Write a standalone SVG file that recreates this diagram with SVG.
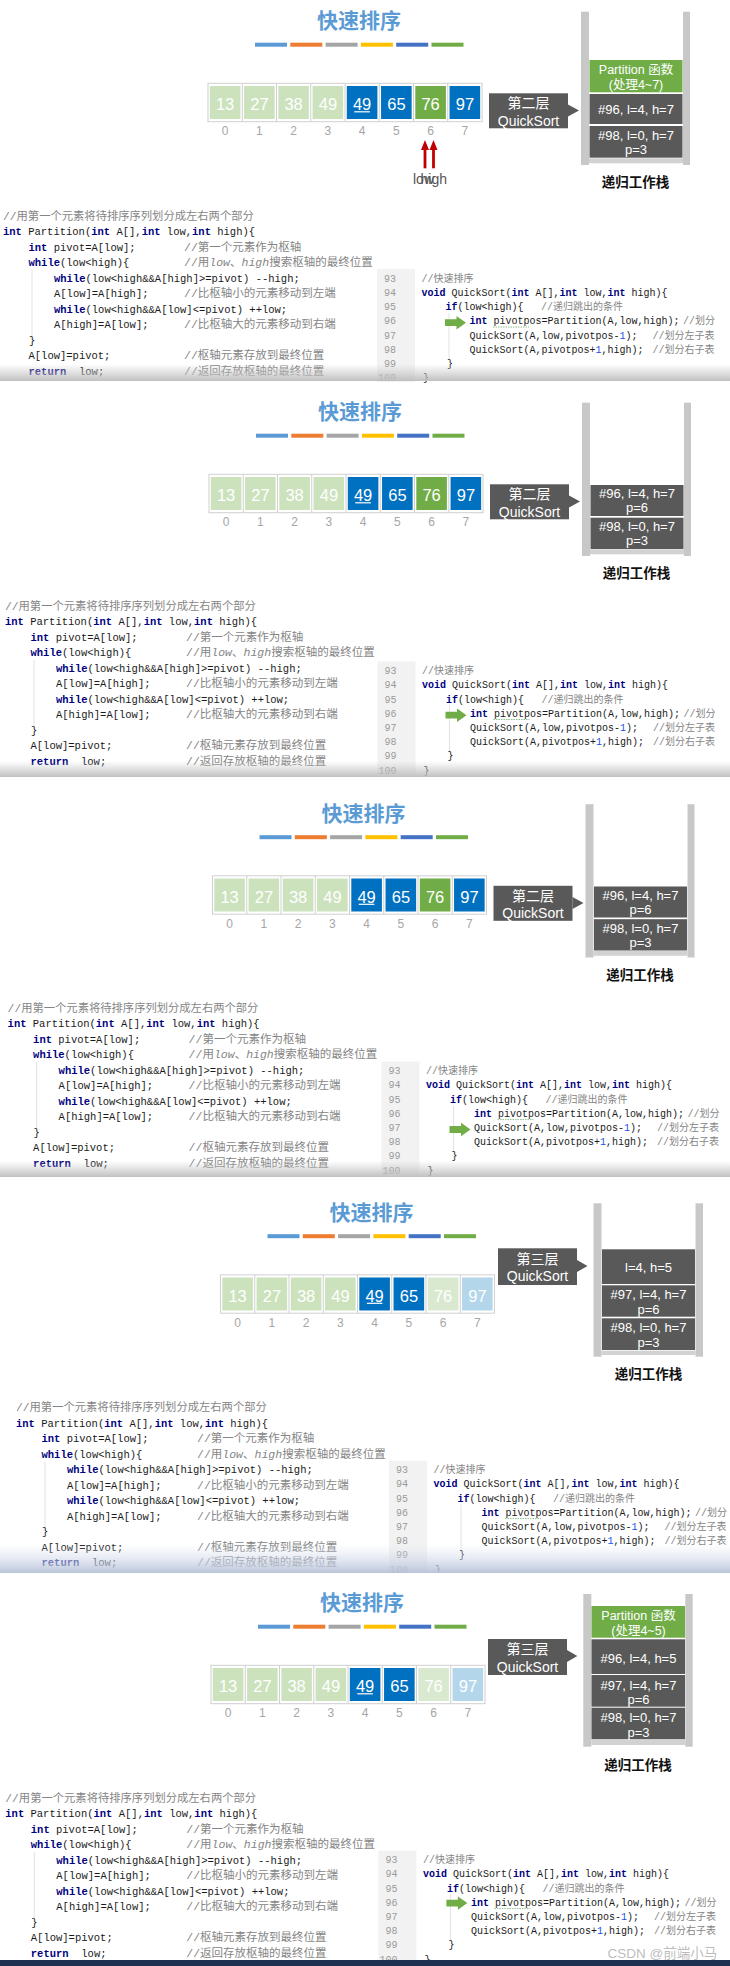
<svg xmlns="http://www.w3.org/2000/svg" xmlns:xlink="http://www.w3.org/1999/xlink" width="730" height="1966" viewBox="0 0 730 1966">
<style>
.t{font-family:"Noto Sans CJK SC",sans-serif;font-weight:700;font-size:21px;fill:#5b9bd5;text-anchor:middle}
.n{font-family:"Liberation Sans",Arial,sans-serif;font-size:16.5px;fill:#fff;text-anchor:middle}
.ix{font-family:"Liberation Sans",Arial,sans-serif;font-size:12px;fill:#a6a6a6;text-anchor:middle}
.cw{font-family:"Liberation Sans","Noto Sans CJK SC",sans-serif;font-size:14px;fill:#fff;text-anchor:middle}
.sw{font-family:"Liberation Sans","Noto Sans CJK SC",sans-serif;font-size:13px;fill:#fff;text-anchor:middle}
.sp{font-size:12.5px}
.sk{font-family:"Noto Sans CJK SC",sans-serif;font-weight:700;font-size:13.5px;fill:#111;text-anchor:middle}
.lh{font-family:"Liberation Sans",Arial,sans-serif;font-size:14px;fill:#555}
.lc{font-family:"Liberation Mono","DejaVu Sans Mono","Noto Sans CJK SC",monospace;font-size:10.5px;fill:#1a1a1a}
.rc{font-family:"Liberation Mono","DejaVu Sans Mono","Noto Sans CJK SC",monospace;font-size:10px;fill:#1a1a1a}
.k{fill:#000080;font-weight:700}
.c{fill:#858585}
.lc .c{font-size:11.5px}
.i{font-style:italic}
.num{fill:#1750eb}
.ln{fill:#9a9a9a;text-anchor:end}
.gut{fill:#f2f2f2}
.gd{stroke:#e2e2e2;stroke-width:1}
.sq{stroke:#8cc08c;stroke-width:1;stroke-dasharray:1.5 1;fill:none}
.fr{fill:#fff;stroke:#d0d0d0;stroke-width:1}
.dv{stroke:#d0d0d0;stroke-width:1;fill:none}
.lg{fill:#cce2bd}.bl{fill:#0070c0}.gr{fill:#70ad47}.lg2{fill:#d9e9cf}.lb{fill:#b4d6eb}.dk{fill:#595959}
.sb{fill:#c8c8c8}.sbb{fill:#d2d2d2}
</style>
<defs>
<path id="ga" d="M-21,-3.4H-9.5V-6.7L0,0L-9.5,6.7V3.4H-21Z" fill="#70ad47"/>
<linearGradient id="sh" x1="0" y1="0" x2="0" y2="1">
<stop offset="0" stop-color="#c4c4c4" stop-opacity="0"/>
<stop offset="1" stop-color="#bdbdbd" stop-opacity="0.95"/>
</linearGradient>
<linearGradient id="shb" x1="0" y1="0" x2="0" y2="1">
<stop offset="0" stop-color="#dfe6f2" stop-opacity="0"/>
<stop offset="1" stop-color="#b7c2d8" stop-opacity="0.95"/>
</linearGradient>
</defs>
<rect x="0" y="0" width="730" height="1966" fill="#fff"/>

<!-- ================= PANEL 1 ================= -->
<g id="panel1">
<g id="p1-title">
<text class="t" x="359" y="28">快速排序</text>
<rect x="255" y="42.7" width="32" height="4" fill="#5b9bd5"/>
<rect x="290.3" y="42.7" width="32" height="4" fill="#ed7d31"/>
<rect x="325.6" y="42.7" width="32" height="4" fill="#a5a5a5"/>
<rect x="360.9" y="42.7" width="32" height="4" fill="#ffc000"/>
<rect x="396.2" y="42.7" width="32" height="4" fill="#4472c4"/>
<rect x="431.5" y="42.7" width="32" height="4" fill="#70ad47"/>
</g>
<g id="p1-array">
<rect class="fr" x="208" y="83.3" width="274" height="38.4"/>
<path class="dv" d="M242.25,83.3V121.7M276.5,83.3V121.7M310.75,83.3V121.7M345,83.3V121.7M379.25,83.3V121.7M413.5,83.3V121.7M447.75,83.3V121.7"/>
<rect class="lg" x="209.8" y="86" width="30.6" height="33"/>
<rect class="lg" x="244.05" y="86" width="30.6" height="33"/>
<rect class="lg" x="278.3" y="86" width="30.6" height="33"/>
<rect class="lg" x="312.55" y="86" width="30.6" height="33"/>
<rect class="bl" x="346.8" y="86" width="30.6" height="33"/>
<rect class="bl" x="381.05" y="86" width="30.6" height="33"/>
<rect class="gr" x="415.3" y="86" width="30.6" height="33"/>
<rect class="bl" x="449.55" y="86" width="30.6" height="33"/>
<text class="n" x="225.1" y="110">13</text>
<text class="n" x="259.4" y="110">27</text>
<text class="n" x="293.6" y="110">38</text>
<text class="n" x="327.9" y="110">49</text>
<text class="n" x="362.1" y="110">49</text>
<text class="n" x="396.4" y="110">65</text>
<text class="n" x="430.6" y="110">76</text>
<text class="n" x="464.9" y="110">97</text>
<line x1="354.3" y1="111.8" x2="369.9" y2="111.8" stroke="#fff" stroke-width="1.2"/>
<text class="ix" x="225.1" y="135">0</text>
<text class="ix" x="259.4" y="135">1</text>
<text class="ix" x="293.6" y="135">2</text>
<text class="ix" x="327.9" y="135">3</text>
<text class="ix" x="362.1" y="135">4</text>
<text class="ix" x="396.4" y="135">5</text>
<text class="ix" x="430.6" y="135">6</text>
<text class="ix" x="464.9" y="135">7</text>
</g>
<g id="p1-pointers" fill="#c00000">
<path d="M421,150L425,140L429,150Z"/><rect x="423.6" y="149" width="2.8" height="19.3"/>
<path d="M429.5,150L433.5,140L437.5,150Z"/><rect x="432.1" y="149" width="2.8" height="19.3"/>
<text class="lh" x="413" y="183.5">low</text>
<text class="lh" x="447" y="183.5" text-anchor="end">high</text>
</g>
<g id="p1-callout">
<rect class="dk" x="489" y="93.3" width="79" height="35"/>
<path class="dk" d="M568,104.5L579,110.5L568,116.5Z"/>
<text class="cw" x="528.5" y="108">第二层</text>
<text class="cw" x="528.5" y="125.5">QuickSort</text>
</g>
<g id="p1-stack">
<rect class="sb" x="581" y="11.7" width="8" height="153.3"/>
<rect class="sb" x="683" y="11.7" width="7" height="153.3"/>
<rect class="sbb" x="589" y="158.3" width="94" height="5"/>
<rect class="gr" x="589.5" y="60" width="93" height="32.3"/>
<text class="sw sp" x="636" y="74">Partition 函数</text>
<text class="sw sp" x="636" y="89">(处理4~7)</text>
<rect class="dk" x="589.5" y="94" width="93" height="30"/>
<text class="sw" x="636" y="113.5">#96, l=4, h=7</text>
<rect class="dk" x="589.5" y="126" width="93" height="31.7"/>
<text class="sw" x="636" y="140">#98, l=0, h=7</text>
<text class="sw" x="636" y="154">p=3</text>
<text class="sk" x="635.5" y="187">递归工作栈</text>
</g>
<g id="p1-code-left" class="lc">
<line class="gd" x1="32" y1="270" x2="32" y2="337"/>
<text x="3" y="219.5" class="c" style="font-size:11.3px">//用第一个元素将待排序序列划分成左右两个部分</text>
<text x="3" y="235"><tspan class="k">int</tspan> Partition(<tspan class="k">int</tspan> A[],<tspan class="k">int</tspan> low,<tspan class="k">int</tspan> high){</text>
<text x="28.5" y="250.5"><tspan class="k">int</tspan> pivot=A[low];</text>
<text x="184" y="250.5" class="c">//第一个元素作为枢轴</text>
<text x="28.5" y="266"><tspan class="k">while</tspan>(low&lt;high){</text>
<text x="184" y="266" class="c">//用<tspan class="i">low</tspan>、<tspan class="i">high</tspan>搜索枢轴的最终位置</text>
<text x="54" y="281.5"><tspan class="k">while</tspan>(low&lt;high&amp;&amp;A[high]&gt;=pivot) --high;</text>
<text x="54" y="297">A[low]=A[high];</text>
<text x="184" y="297" class="c">//比枢轴小的元素移动到左端</text>
<text x="54" y="312.5"><tspan class="k">while</tspan>(low&lt;high&amp;&amp;A[low]&lt;=pivot) ++low;</text>
<text x="54" y="328">A[high]=A[low];</text>
<text x="184" y="328" class="c">//比枢轴大的元素移动到右端</text>
<text x="29" y="343.5">}</text>
<text x="28.5" y="359">A[low]=pivot;</text>
<text x="184" y="359" class="c">//枢轴元素存放到最终位置</text>
<text x="28.5" y="374.5"><tspan class="k">return</tspan><tspan x="79">low;</tspan></text>
<text x="184" y="374.5" class="c">//返回存放枢轴的最终位置</text>
</g>
<g id="p1-code-right" class="rc">
<rect class="gut" x="377" y="269" width="38" height="113"/>
<line class="gd" x1="449" y1="313" x2="449" y2="360"/>
<text class="ln" x="396" y="281.7">93</text>
<text class="ln" x="396" y="295.9">94</text>
<text class="ln" x="396" y="310.1">95</text>
<text class="ln" x="396" y="324.3">96</text>
<text class="ln" x="396" y="338.5">97</text>
<text class="ln" x="396" y="352.7">98</text>
<text class="ln" x="396" y="366.9">99</text>
<text class="ln" x="396" y="381.1">100</text>
<text x="421.5" y="281.7" class="c">//快速排序</text>
<text x="421.5" y="295.9"><tspan class="k">void</tspan> QuickSort(<tspan class="k">int</tspan> A[],<tspan class="k">int</tspan> low,<tspan class="k">int</tspan> high){</text>
<text x="445.5" y="310.1"><tspan class="k">if</tspan>(low&lt;high){</text>
<text x="541" y="310.1" class="c">//递归跳出的条件</text>
<text x="469.5" y="324.3"><tspan class="k">int</tspan> pivotpos=Partition(A,low,high);</text>
<text x="683" y="324.3" class="c">//划分</text>
<text x="469.5" y="338.5">QuickSort(A,low,pivotpos-<tspan class="num">1</tspan>);</text>
<text x="652.5" y="338.5" class="c">//划分左子表</text>
<text x="469.5" y="352.7">QuickSort(A,pivotpos+<tspan class="num">1</tspan>,high);</text>
<text x="652.5" y="352.7" class="c">//划分右子表</text>
<text x="447" y="366.9">}</text>
<text x="423" y="381.1">}</text>
<path class="sq" d="M493,327h36"/>
<use href="#ga" x="466" y="322.7"/>
</g>
</g>
<rect x="0" y="364" width="730" height="17" fill="url(#sh)"/>

<!-- ================= PANEL 2 ================= -->
<g id="panel2">
<g transform="translate(1,391)">
<g id="p2-title">
<text class="t" x="359" y="28">快速排序</text>
<rect x="255" y="42.7" width="32" height="4" fill="#5b9bd5"/>
<rect x="290.3" y="42.7" width="32" height="4" fill="#ed7d31"/>
<rect x="325.6" y="42.7" width="32" height="4" fill="#a5a5a5"/>
<rect x="360.9" y="42.7" width="32" height="4" fill="#ffc000"/>
<rect x="396.2" y="42.7" width="32" height="4" fill="#4472c4"/>
<rect x="431.5" y="42.7" width="32" height="4" fill="#70ad47"/>
</g>
<g id="p2-array">
<rect class="fr" x="208" y="83.3" width="274" height="38.4"/>
<path class="dv" d="M242.25,83.3V121.7M276.5,83.3V121.7M310.75,83.3V121.7M345,83.3V121.7M379.25,83.3V121.7M413.5,83.3V121.7M447.75,83.3V121.7"/>
<rect class="lg" x="209.8" y="86" width="30.6" height="33"/>
<rect class="lg" x="244.05" y="86" width="30.6" height="33"/>
<rect class="lg" x="278.3" y="86" width="30.6" height="33"/>
<rect class="lg" x="312.55" y="86" width="30.6" height="33"/>
<rect class="bl" x="346.8" y="86" width="30.6" height="33"/>
<rect class="bl" x="381.05" y="86" width="30.6" height="33"/>
<rect class="gr" x="415.3" y="86" width="30.6" height="33"/>
<rect class="bl" x="449.55" y="86" width="30.6" height="33"/>
<text class="n" x="225.1" y="110">13</text>
<text class="n" x="259.4" y="110">27</text>
<text class="n" x="293.6" y="110">38</text>
<text class="n" x="327.9" y="110">49</text>
<text class="n" x="362.1" y="110">49</text>
<text class="n" x="396.4" y="110">65</text>
<text class="n" x="430.6" y="110">76</text>
<text class="n" x="464.9" y="110">97</text>
<line x1="354.3" y1="111.8" x2="369.9" y2="111.8" stroke="#fff" stroke-width="1.2"/>
<text class="ix" x="225.1" y="135">0</text>
<text class="ix" x="259.4" y="135">1</text>
<text class="ix" x="293.6" y="135">2</text>
<text class="ix" x="327.9" y="135">3</text>
<text class="ix" x="362.1" y="135">4</text>
<text class="ix" x="396.4" y="135">5</text>
<text class="ix" x="430.6" y="135">6</text>
<text class="ix" x="464.9" y="135">7</text>
</g>
<g id="p2-callout">
<rect class="dk" x="489" y="93.3" width="79" height="35"/>
<path class="dk" d="M568,104.5L579,110.5L568,116.5Z"/>
<text class="cw" x="528.5" y="108">第二层</text>
<text class="cw" x="528.5" y="125.5">QuickSort</text>
</g>
<g id="p2-stack">
<rect class="sb" x="581" y="11.7" width="8" height="153.3"/>
<rect class="sb" x="683" y="11.7" width="7" height="153.3"/>
<rect class="sbb" x="589" y="158.3" width="94" height="5"/>
<rect class="dk" x="589.5" y="94" width="93" height="31"/>
<text class="sw" x="636" y="107">#96, l=4, h=7</text>
<text class="sw" x="636" y="121">p=6</text>
<rect class="dk" x="589.5" y="126.7" width="93" height="31.3"/>
<text class="sw" x="636" y="140.3">#98, l=0, h=7</text>
<text class="sw" x="636" y="154">p=3</text>
<text class="sk" x="635.5" y="187">递归工作栈</text>
</g>
</g>
<g id="p2-code-left" class="lc" transform="translate(2,390)">
<line class="gd" x1="32" y1="270" x2="32" y2="337"/>
<text x="3" y="219.5" class="c" style="font-size:11.3px">//用第一个元素将待排序序列划分成左右两个部分</text>
<text x="3" y="235"><tspan class="k">int</tspan> Partition(<tspan class="k">int</tspan> A[],<tspan class="k">int</tspan> low,<tspan class="k">int</tspan> high){</text>
<text x="28.5" y="250.5"><tspan class="k">int</tspan> pivot=A[low];</text>
<text x="184" y="250.5" class="c">//第一个元素作为枢轴</text>
<text x="28.5" y="266"><tspan class="k">while</tspan>(low&lt;high){</text>
<text x="184" y="266" class="c">//用<tspan class="i">low</tspan>、<tspan class="i">high</tspan>搜索枢轴的最终位置</text>
<text x="54" y="281.5"><tspan class="k">while</tspan>(low&lt;high&amp;&amp;A[high]&gt;=pivot) --high;</text>
<text x="54" y="297">A[low]=A[high];</text>
<text x="184" y="297" class="c">//比枢轴小的元素移动到左端</text>
<text x="54" y="312.5"><tspan class="k">while</tspan>(low&lt;high&amp;&amp;A[low]&lt;=pivot) ++low;</text>
<text x="54" y="328">A[high]=A[low];</text>
<text x="184" y="328" class="c">//比枢轴大的元素移动到右端</text>
<text x="29" y="343.5">}</text>
<text x="28.5" y="359">A[low]=pivot;</text>
<text x="184" y="359" class="c">//枢轴元素存放到最终位置</text>
<text x="28.5" y="374.5"><tspan class="k">return</tspan><tspan x="79">low;</tspan></text>
<text x="184" y="374.5" class="c">//返回存放枢轴的最终位置</text>
</g>
<g id="p2-code-right" class="rc" transform="translate(0.5,392.5)">
<rect class="gut" x="377" y="269" width="38" height="113"/>
<line class="gd" x1="449" y1="313" x2="449" y2="360"/>
<text class="ln" x="396" y="281.7">93</text>
<text class="ln" x="396" y="295.9">94</text>
<text class="ln" x="396" y="310.1">95</text>
<text class="ln" x="396" y="324.3">96</text>
<text class="ln" x="396" y="338.5">97</text>
<text class="ln" x="396" y="352.7">98</text>
<text class="ln" x="396" y="366.9">99</text>
<text class="ln" x="396" y="381.1">100</text>
<text x="421.5" y="281.7" class="c">//快速排序</text>
<text x="421.5" y="295.9"><tspan class="k">void</tspan> QuickSort(<tspan class="k">int</tspan> A[],<tspan class="k">int</tspan> low,<tspan class="k">int</tspan> high){</text>
<text x="445.5" y="310.1"><tspan class="k">if</tspan>(low&lt;high){</text>
<text x="541" y="310.1" class="c">//递归跳出的条件</text>
<text x="469.5" y="324.3"><tspan class="k">int</tspan> pivotpos=Partition(A,low,high);</text>
<text x="683" y="324.3" class="c">//划分</text>
<text x="469.5" y="338.5">QuickSort(A,low,pivotpos-<tspan class="num">1</tspan>);</text>
<text x="652.5" y="338.5" class="c">//划分左子表</text>
<text x="469.5" y="352.7">QuickSort(A,pivotpos+<tspan class="num">1</tspan>,high);</text>
<text x="652.5" y="352.7" class="c">//划分右子表</text>
<text x="447" y="366.9">}</text>
<text x="423" y="381.1">}</text>
<path class="sq" d="M493,327h36"/>
<use href="#ga" x="466" y="322.7"/>
</g>
</g>
<rect x="0" y="761" width="730" height="16" fill="url(#sh)"/>

<!-- ================= PANEL 3 ================= -->
<g id="panel3">
<g transform="translate(4.5,792.5)">
<g id="p3-title">
<text class="t" x="359" y="28">快速排序</text>
<rect x="255" y="42.7" width="32" height="4" fill="#5b9bd5"/>
<rect x="290.3" y="42.7" width="32" height="4" fill="#ed7d31"/>
<rect x="325.6" y="42.7" width="32" height="4" fill="#a5a5a5"/>
<rect x="360.9" y="42.7" width="32" height="4" fill="#ffc000"/>
<rect x="396.2" y="42.7" width="32" height="4" fill="#4472c4"/>
<rect x="431.5" y="42.7" width="32" height="4" fill="#70ad47"/>
</g>
<g id="p3-array">
<rect class="fr" x="208" y="83.3" width="274" height="38.4"/>
<path class="dv" d="M242.25,83.3V121.7M276.5,83.3V121.7M310.75,83.3V121.7M345,83.3V121.7M379.25,83.3V121.7M413.5,83.3V121.7M447.75,83.3V121.7"/>
<rect class="lg" x="209.8" y="86" width="30.6" height="33"/>
<rect class="lg" x="244.05" y="86" width="30.6" height="33"/>
<rect class="lg" x="278.3" y="86" width="30.6" height="33"/>
<rect class="lg" x="312.55" y="86" width="30.6" height="33"/>
<rect class="bl" x="346.8" y="86" width="30.6" height="33"/>
<rect class="bl" x="381.05" y="86" width="30.6" height="33"/>
<rect class="gr" x="415.3" y="86" width="30.6" height="33"/>
<rect class="bl" x="449.55" y="86" width="30.6" height="33"/>
<text class="n" x="225.1" y="110">13</text>
<text class="n" x="259.4" y="110">27</text>
<text class="n" x="293.6" y="110">38</text>
<text class="n" x="327.9" y="110">49</text>
<text class="n" x="362.1" y="110">49</text>
<text class="n" x="396.4" y="110">65</text>
<text class="n" x="430.6" y="110">76</text>
<text class="n" x="464.9" y="110">97</text>
<line x1="354.3" y1="111.8" x2="369.9" y2="111.8" stroke="#fff" stroke-width="1.2"/>
<text class="ix" x="225.1" y="135">0</text>
<text class="ix" x="259.4" y="135">1</text>
<text class="ix" x="293.6" y="135">2</text>
<text class="ix" x="327.9" y="135">3</text>
<text class="ix" x="362.1" y="135">4</text>
<text class="ix" x="396.4" y="135">5</text>
<text class="ix" x="430.6" y="135">6</text>
<text class="ix" x="464.9" y="135">7</text>
</g>
<g id="p3-callout">
<rect class="dk" x="489" y="93.3" width="79" height="35"/>
<path class="dk" d="M568,104.5L579,110.5L568,116.5Z"/>
<text class="cw" x="528.5" y="108">第二层</text>
<text class="cw" x="528.5" y="125.5">QuickSort</text>
</g>
<g id="p3-stack">
<rect class="sb" x="581" y="11.7" width="8" height="153.3"/>
<rect class="sb" x="683" y="11.7" width="7" height="153.3"/>
<rect class="sbb" x="589" y="158.3" width="94" height="5"/>
<rect class="dk" x="589.5" y="94" width="93" height="31"/>
<text class="sw" x="636" y="107">#96, l=4, h=7</text>
<text class="sw" x="636" y="121">p=6</text>
<rect class="dk" x="589.5" y="126.7" width="93" height="31.3"/>
<text class="sw" x="636" y="140.3">#98, l=0, h=7</text>
<text class="sw" x="636" y="154">p=3</text>
<text class="sk" x="635.5" y="187">递归工作栈</text>
</g>
</g>
<g id="p3-code-left" class="lc" transform="translate(4.6,792.3)">
<line class="gd" x1="32" y1="270" x2="32" y2="337"/>
<text x="3" y="219.5" class="c" style="font-size:11.3px">//用第一个元素将待排序序列划分成左右两个部分</text>
<text x="3" y="235"><tspan class="k">int</tspan> Partition(<tspan class="k">int</tspan> A[],<tspan class="k">int</tspan> low,<tspan class="k">int</tspan> high){</text>
<text x="28.5" y="250.5"><tspan class="k">int</tspan> pivot=A[low];</text>
<text x="184" y="250.5" class="c">//第一个元素作为枢轴</text>
<text x="28.5" y="266"><tspan class="k">while</tspan>(low&lt;high){</text>
<text x="184" y="266" class="c">//用<tspan class="i">low</tspan>、<tspan class="i">high</tspan>搜索枢轴的最终位置</text>
<text x="54" y="281.5"><tspan class="k">while</tspan>(low&lt;high&amp;&amp;A[high]&gt;=pivot) --high;</text>
<text x="54" y="297">A[low]=A[high];</text>
<text x="184" y="297" class="c">//比枢轴小的元素移动到左端</text>
<text x="54" y="312.5"><tspan class="k">while</tspan>(low&lt;high&amp;&amp;A[low]&lt;=pivot) ++low;</text>
<text x="54" y="328">A[high]=A[low];</text>
<text x="184" y="328" class="c">//比枢轴大的元素移动到右端</text>
<text x="29" y="343.5">}</text>
<text x="28.5" y="359">A[low]=pivot;</text>
<text x="184" y="359" class="c">//枢轴元素存放到最终位置</text>
<text x="28.5" y="374.5"><tspan class="k">return</tspan><tspan x="79">low;</tspan></text>
<text x="184" y="374.5" class="c">//返回存放枢轴的最终位置</text>
</g>
<g id="p3-code-right" class="rc" transform="translate(4.5,792.6)">
<rect class="gut" x="377" y="269" width="38" height="113"/>
<line class="gd" x1="449" y1="313" x2="449" y2="360"/>
<text class="ln" x="396" y="281.7">93</text>
<text class="ln" x="396" y="295.9">94</text>
<text class="ln" x="396" y="310.1">95</text>
<text class="ln" x="396" y="324.3">96</text>
<text class="ln" x="396" y="338.5">97</text>
<text class="ln" x="396" y="352.7">98</text>
<text class="ln" x="396" y="366.9">99</text>
<text class="ln" x="396" y="381.1">100</text>
<text x="421.5" y="281.7" class="c">//快速排序</text>
<text x="421.5" y="295.9"><tspan class="k">void</tspan> QuickSort(<tspan class="k">int</tspan> A[],<tspan class="k">int</tspan> low,<tspan class="k">int</tspan> high){</text>
<text x="445.5" y="310.1"><tspan class="k">if</tspan>(low&lt;high){</text>
<text x="541" y="310.1" class="c">//递归跳出的条件</text>
<text x="469.5" y="324.3"><tspan class="k">int</tspan> pivotpos=Partition(A,low,high);</text>
<text x="683" y="324.3" class="c">//划分</text>
<text x="469.5" y="338.5">QuickSort(A,low,pivotpos-<tspan class="num">1</tspan>);</text>
<text x="652.5" y="338.5" class="c">//划分左子表</text>
<text x="469.5" y="352.7">QuickSort(A,pivotpos+<tspan class="num">1</tspan>,high);</text>
<text x="652.5" y="352.7" class="c">//划分右子表</text>
<text x="447" y="366.9">}</text>
<text x="423" y="381.1">}</text>
<path class="sq" d="M493,327h36"/>
<use href="#ga" x="466" y="336.9"/>
</g>
</g>
<rect x="0" y="1161" width="730" height="16" fill="url(#sh)"/>

<!-- ================= PANEL 4 ================= -->
<g id="panel4">
<g transform="translate(12.5,1191.5)">
<g id="p4-title">
<text class="t" x="359" y="28">快速排序</text>
<rect x="255" y="42.7" width="32" height="4" fill="#5b9bd5"/>
<rect x="290.3" y="42.7" width="32" height="4" fill="#ed7d31"/>
<rect x="325.6" y="42.7" width="32" height="4" fill="#a5a5a5"/>
<rect x="360.9" y="42.7" width="32" height="4" fill="#ffc000"/>
<rect x="396.2" y="42.7" width="32" height="4" fill="#4472c4"/>
<rect x="431.5" y="42.7" width="32" height="4" fill="#70ad47"/>
</g>
<g id="p4-array">
<rect class="fr" x="208" y="83.3" width="274" height="38.4"/>
<path class="dv" d="M242.25,83.3V121.7M276.5,83.3V121.7M310.75,83.3V121.7M345,83.3V121.7M379.25,83.3V121.7M413.5,83.3V121.7M447.75,83.3V121.7"/>
<rect class="lg" x="209.8" y="86" width="30.6" height="33"/>
<rect class="lg" x="244.05" y="86" width="30.6" height="33"/>
<rect class="lg" x="278.3" y="86" width="30.6" height="33"/>
<rect class="lg" x="312.55" y="86" width="30.6" height="33"/>
<rect class="bl" x="346.8" y="86" width="30.6" height="33"/>
<rect class="bl" x="381.05" y="86" width="30.6" height="33"/>
<rect class="lg2" x="415.3" y="86" width="30.6" height="33"/>
<rect class="lb" x="449.55" y="86" width="30.6" height="33"/>
<text class="n" x="225.1" y="110">13</text>
<text class="n" x="259.4" y="110">27</text>
<text class="n" x="293.6" y="110">38</text>
<text class="n" x="327.9" y="110">49</text>
<text class="n" x="362.1" y="110">49</text>
<text class="n" x="396.4" y="110">65</text>
<text class="n" x="430.6" y="110">76</text>
<text class="n" x="464.9" y="110">97</text>
<line x1="354.3" y1="111.8" x2="369.9" y2="111.8" stroke="#fff" stroke-width="1.2"/>
<text class="ix" x="225.1" y="135">0</text>
<text class="ix" x="259.4" y="135">1</text>
<text class="ix" x="293.6" y="135">2</text>
<text class="ix" x="327.9" y="135">3</text>
<text class="ix" x="362.1" y="135">4</text>
<text class="ix" x="396.4" y="135">5</text>
<text class="ix" x="430.6" y="135">6</text>
<text class="ix" x="464.9" y="135">7</text>
</g>
<g id="p4-callout">
<rect class="dk" x="485.5" y="56.8" width="79" height="36.7"/>
<path class="dk" d="M564.5,68.5L575,74.5L564.5,80.5Z"/>
<text class="cw" x="525" y="72.5">第三层</text>
<text class="cw" x="525" y="89.5">QuickSort</text>
</g>
<g id="p4-stack">
<rect class="sb" x="581" y="11.8" width="8" height="153.4"/>
<rect class="sb" x="683" y="11.8" width="7.5" height="153.4"/>
<rect class="sbb" x="589" y="159.2" width="94" height="4.3"/>
<rect class="dk" x="589.5" y="57.8" width="93" height="34.7"/>
<text class="sw" x="636" y="80.5">l=4, h=5</text>
<rect class="dk" x="589.5" y="93.8" width="93" height="31.4"/>
<text class="sw" x="636" y="107.5">#97, l=4, h=7</text>
<text class="sw" x="636" y="122.5">p=6</text>
<rect class="dk" x="589.5" y="126.8" width="93" height="31.7"/>
<text class="sw" x="636" y="140.5">#98, l=0, h=7</text>
<text class="sw" x="636" y="155">p=3</text>
<text class="sk" x="636" y="187.5">递归工作栈</text>
</g>
</g>
<g id="p4-code-left" class="lc" transform="translate(13,1191.7)">
<line class="gd" x1="32" y1="270" x2="32" y2="337"/>
<text x="3" y="219.5" class="c" style="font-size:11.3px">//用第一个元素将待排序序列划分成左右两个部分</text>
<text x="3" y="235"><tspan class="k">int</tspan> Partition(<tspan class="k">int</tspan> A[],<tspan class="k">int</tspan> low,<tspan class="k">int</tspan> high){</text>
<text x="28.5" y="250.5"><tspan class="k">int</tspan> pivot=A[low];</text>
<text x="184" y="250.5" class="c">//第一个元素作为枢轴</text>
<text x="28.5" y="266"><tspan class="k">while</tspan>(low&lt;high){</text>
<text x="184" y="266" class="c">//用<tspan class="i">low</tspan>、<tspan class="i">high</tspan>搜索枢轴的最终位置</text>
<text x="54" y="281.5"><tspan class="k">while</tspan>(low&lt;high&amp;&amp;A[high]&gt;=pivot) --high;</text>
<text x="54" y="297">A[low]=A[high];</text>
<text x="184" y="297" class="c">//比枢轴小的元素移动到左端</text>
<text x="54" y="312.5"><tspan class="k">while</tspan>(low&lt;high&amp;&amp;A[low]&lt;=pivot) ++low;</text>
<text x="54" y="328">A[high]=A[low];</text>
<text x="184" y="328" class="c">//比枢轴大的元素移动到右端</text>
<text x="29" y="343.5">}</text>
<text x="28.5" y="359">A[low]=pivot;</text>
<text x="184" y="359" class="c">//枢轴元素存放到最终位置</text>
<text x="28.5" y="374.5"><tspan class="k">return</tspan><tspan x="79">low;</tspan></text>
<text x="184" y="374.5" class="c">//返回存放枢轴的最终位置</text>
</g>
<g id="p4-code-right" class="rc" transform="translate(12,1191.6)">
<rect class="gut" x="377" y="269" width="38" height="112"/>
<line class="gd" x1="449" y1="313" x2="449" y2="360"/>
<text class="ln" x="396" y="281.7">93</text>
<text class="ln" x="396" y="295.9">94</text>
<text class="ln" x="396" y="310.1">95</text>
<text class="ln" x="396" y="324.3">96</text>
<text class="ln" x="396" y="338.5">97</text>
<text class="ln" x="396" y="352.7">98</text>
<text class="ln" x="396" y="366.9">99</text>
<text class="ln" x="396" y="381.1">100</text>
<text x="421.5" y="281.7" class="c">//快速排序</text>
<text x="421.5" y="295.9"><tspan class="k">void</tspan> QuickSort(<tspan class="k">int</tspan> A[],<tspan class="k">int</tspan> low,<tspan class="k">int</tspan> high){</text>
<text x="445.5" y="310.1"><tspan class="k">if</tspan>(low&lt;high){</text>
<text x="541" y="310.1" class="c">//递归跳出的条件</text>
<text x="469.5" y="324.3"><tspan class="k">int</tspan> pivotpos=Partition(A,low,high);</text>
<text x="683" y="324.3" class="c">//划分</text>
<text x="469.5" y="338.5">QuickSort(A,low,pivotpos-<tspan class="num">1</tspan>);</text>
<text x="652.5" y="338.5" class="c">//划分左子表</text>
<text x="469.5" y="352.7">QuickSort(A,pivotpos+<tspan class="num">1</tspan>,high);</text>
<text x="652.5" y="352.7" class="c">//划分右子表</text>
<text x="447" y="366.9">}</text>
<text x="423" y="381.1">}</text>
<path class="sq" d="M493,327h36"/>
</g>
</g>
<rect x="0" y="1543" width="730" height="30" fill="url(#shb)"/>
<rect x="0" y="1573" width="730" height="24" fill="#fff"/>

<!-- ================= PANEL 5 ================= -->
<g id="panel5">
<g transform="translate(3,1582)">
<g id="p5-title">
<text class="t" x="359" y="28">快速排序</text>
<rect x="255" y="42.7" width="32" height="4" fill="#5b9bd5"/>
<rect x="290.3" y="42.7" width="32" height="4" fill="#ed7d31"/>
<rect x="325.6" y="42.7" width="32" height="4" fill="#a5a5a5"/>
<rect x="360.9" y="42.7" width="32" height="4" fill="#ffc000"/>
<rect x="396.2" y="42.7" width="32" height="4" fill="#4472c4"/>
<rect x="431.5" y="42.7" width="32" height="4" fill="#70ad47"/>
</g>
<g id="p5-array">
<rect class="fr" x="208" y="83.3" width="274" height="38.4"/>
<path class="dv" d="M242.25,83.3V121.7M276.5,83.3V121.7M310.75,83.3V121.7M345,83.3V121.7M379.25,83.3V121.7M413.5,83.3V121.7M447.75,83.3V121.7"/>
<rect class="lg" x="209.8" y="86" width="30.6" height="33"/>
<rect class="lg" x="244.05" y="86" width="30.6" height="33"/>
<rect class="lg" x="278.3" y="86" width="30.6" height="33"/>
<rect class="lg" x="312.55" y="86" width="30.6" height="33"/>
<rect class="bl" x="346.8" y="86" width="30.6" height="33"/>
<rect class="bl" x="381.05" y="86" width="30.6" height="33"/>
<rect class="lg2" x="415.3" y="86" width="30.6" height="33"/>
<rect class="lb" x="449.55" y="86" width="30.6" height="33"/>
<text class="n" x="225.1" y="110">13</text>
<text class="n" x="259.4" y="110">27</text>
<text class="n" x="293.6" y="110">38</text>
<text class="n" x="327.9" y="110">49</text>
<text class="n" x="362.1" y="110">49</text>
<text class="n" x="396.4" y="110">65</text>
<text class="n" x="430.6" y="110">76</text>
<text class="n" x="464.9" y="110">97</text>
<line x1="354.3" y1="111.8" x2="369.9" y2="111.8" stroke="#fff" stroke-width="1.2"/>
<text class="ix" x="225.1" y="135">0</text>
<text class="ix" x="259.4" y="135">1</text>
<text class="ix" x="293.6" y="135">2</text>
<text class="ix" x="327.9" y="135">3</text>
<text class="ix" x="362.1" y="135">4</text>
<text class="ix" x="396.4" y="135">5</text>
<text class="ix" x="430.6" y="135">6</text>
<text class="ix" x="464.9" y="135">7</text>
</g>
<g id="p5-callout">
<rect class="dk" x="485" y="57" width="79" height="36"/>
<path class="dk" d="M564,68L574.3,74L564,80Z"/>
<text class="cw" x="524.5" y="72">第三层</text>
<text class="cw" x="524.5" y="90">QuickSort</text>
</g>
<g id="p5-stack">
<rect class="sb" x="580.3" y="12" width="8" height="152.7"/>
<rect class="sb" x="682.3" y="12" width="7.4" height="152.7"/>
<rect class="sbb" x="588.3" y="158" width="94" height="5"/>
<rect class="gr" x="588.5" y="24" width="93.5" height="31.7"/>
<text class="sw sp" x="635.5" y="37.5">Partition 函数</text>
<text class="sw sp" x="635.5" y="52.5">(处理4~5)</text>
<rect class="dk" x="588.5" y="57.3" width="93.5" height="34.7"/>
<text class="sw" x="635.5" y="80.5">#96, l=4, h=5</text>
<rect class="dk" x="588.5" y="93" width="93.5" height="31.7"/>
<text class="sw" x="635.5" y="107.5">#97, l=4, h=7</text>
<text class="sw" x="635.5" y="122">p=6</text>
<rect class="dk" x="588.5" y="125.7" width="93.5" height="31.6"/>
<text class="sw" x="635.5" y="139.8">#98, l=0, h=7</text>
<text class="sw" x="635.5" y="154.5">p=3</text>
<text class="sk" x="635" y="187.5">递归工作栈</text>
</g>
</g>
<g id="p5-code-left" class="lc" transform="translate(2.3,1582)">
<line class="gd" x1="32" y1="270" x2="32" y2="337"/>
<text x="3" y="219.5" class="c" style="font-size:11.3px">//用第一个元素将待排序序列划分成左右两个部分</text>
<text x="3" y="235"><tspan class="k">int</tspan> Partition(<tspan class="k">int</tspan> A[],<tspan class="k">int</tspan> low,<tspan class="k">int</tspan> high){</text>
<text x="28.5" y="250.5"><tspan class="k">int</tspan> pivot=A[low];</text>
<text x="184" y="250.5" class="c">//第一个元素作为枢轴</text>
<text x="28.5" y="266"><tspan class="k">while</tspan>(low&lt;high){</text>
<text x="184" y="266" class="c">//用<tspan class="i">low</tspan>、<tspan class="i">high</tspan>搜索枢轴的最终位置</text>
<text x="54" y="281.5"><tspan class="k">while</tspan>(low&lt;high&amp;&amp;A[high]&gt;=pivot) --high;</text>
<text x="54" y="297">A[low]=A[high];</text>
<text x="184" y="297" class="c">//比枢轴小的元素移动到左端</text>
<text x="54" y="312.5"><tspan class="k">while</tspan>(low&lt;high&amp;&amp;A[low]&lt;=pivot) ++low;</text>
<text x="54" y="328">A[high]=A[low];</text>
<text x="184" y="328" class="c">//比枢轴大的元素移动到右端</text>
<text x="29" y="343.5">}</text>
<text x="28.5" y="359">A[low]=pivot;</text>
<text x="184" y="359" class="c">//枢轴元素存放到最终位置</text>
<text x="28.5" y="374.5"><tspan class="k">return</tspan><tspan x="79">low;</tspan></text>
<text x="184" y="374.5" class="c">//返回存放枢轴的最终位置</text>
</g>
<g id="p5-code-right" class="rc" transform="translate(1.4,1581.6)">
<rect class="gut" x="377" y="269" width="38" height="113"/>
<line class="gd" x1="449" y1="313" x2="449" y2="360"/>
<text class="ln" x="396" y="281.7">93</text>
<text class="ln" x="396" y="295.9">94</text>
<text class="ln" x="396" y="310.1">95</text>
<text class="ln" x="396" y="324.3">96</text>
<text class="ln" x="396" y="338.5">97</text>
<text class="ln" x="396" y="352.7">98</text>
<text class="ln" x="396" y="366.9">99</text>
<text class="ln" x="396" y="381.1">100</text>
<text x="421.5" y="281.7" class="c">//快速排序</text>
<text x="421.5" y="295.9"><tspan class="k">void</tspan> QuickSort(<tspan class="k">int</tspan> A[],<tspan class="k">int</tspan> low,<tspan class="k">int</tspan> high){</text>
<text x="445.5" y="310.1"><tspan class="k">if</tspan>(low&lt;high){</text>
<text x="541" y="310.1" class="c">//递归跳出的条件</text>
<text x="469.5" y="324.3"><tspan class="k">int</tspan> pivotpos=Partition(A,low,high);</text>
<text x="683" y="324.3" class="c">//划分</text>
<text x="469.5" y="338.5">QuickSort(A,low,pivotpos-<tspan class="num">1</tspan>);</text>
<text x="652.5" y="338.5" class="c">//划分左子表</text>
<text x="469.5" y="352.7">QuickSort(A,pivotpos+<tspan class="num">1</tspan>,high);</text>
<text x="652.5" y="352.7" class="c">//划分右子表</text>
<text x="447" y="366.9">}</text>
<text x="423" y="381.1">}</text>
<path class="sq" d="M493,327h36"/>
<use href="#ga" x="466" y="321.5"/>
</g>
<text x="607.5" y="1957.5" font-family="Liberation Sans,'Noto Sans CJK SC',sans-serif" font-size="13.5" fill="#b0b0b0" fill-opacity="0.85">CSDN @前端小马</text>
</g>
<rect x="0" y="1960" width="730" height="6" fill="#1f3150"/>
</svg>
